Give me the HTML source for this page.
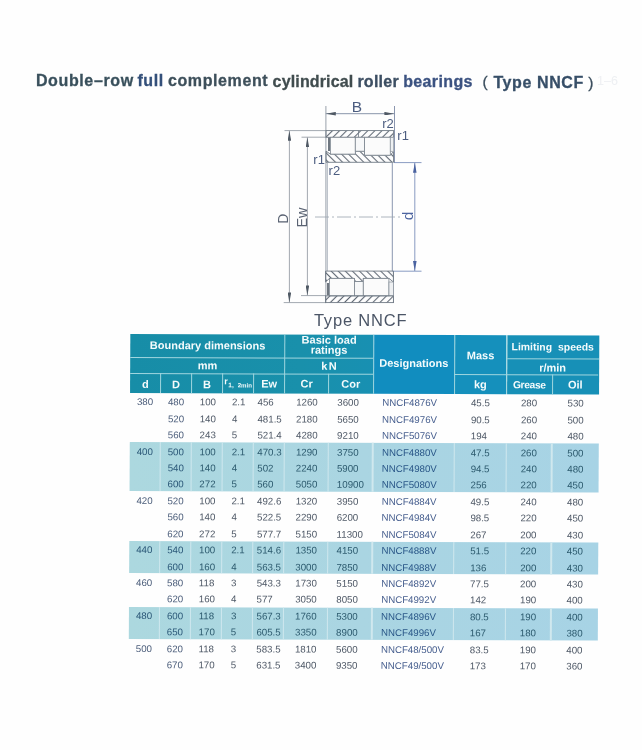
<!DOCTYPE html>
<html><head><meta charset="utf-8"><title>Type NNCF</title><style>
html,body{margin:0;padding:0;}
body{width:642px;height:750px;overflow:hidden;background:#fefefe;position:relative;font-family:"Liberation Sans",Arial,sans-serif;}
.abs{position:absolute;}
.pg{position:absolute;left:0;top:0;width:642px;height:750px;filter:blur(0.3px);}
.tbl{position:absolute;left:0;top:0;width:642px;height:750px;transform-origin:130px 400px;transform:matrix(1,0.0034,-0.005,1,0,0);}
.title{position:absolute;font-weight:bold;font-size:16px;line-height:16px;color:#3b4e5e;white-space:nowrap;letter-spacing:0px;-webkit-text-stroke:0.3px currentColor;}
.ghost{position:absolute;left:597px;top:72px;font-size:12.5px;line-height:18px;color:#eef0f3;white-space:nowrap;}
.ht{position:absolute;color:#f4fbfc;font-weight:bold;font-size:11px;line-height:12px;text-align:center;white-space:nowrap;}
.band{position:absolute;left:130px;width:468.5px;background:linear-gradient(90deg,#acd8df,#aad5e2 50%,#a7d3e5);}
.vs{position:absolute;width:1.4px;background:#d0e8ee;}
.c{position:absolute;font-size:9.7px;line-height:12px;white-space:nowrap;color:#4e5866;}
.c.dz{color:#465e8e;}
.c.dd{color:#4b5d7a;}
.bl .c{color:#2c5a6e;}
.bl .c.dd{color:#2b5878;}
.bl .c.dz{color:#2a5788;}
</style></head><body><div class="pg">
<div class="title" style="left:35.9px;top:73.00px;letter-spacing:0.63px;color:#39505c;">Double–row</div>
<div class="title" style="left:137.4px;top:73.33px;letter-spacing:0.6px;color:#34507a;">full</div>
<div class="title" style="left:168.0px;top:73.43px;letter-spacing:0.6px;color:#3d4f5a;">complement</div>
<div class="title" style="left:272.6px;top:73.78px;letter-spacing:0.15px;color:#404c4e;">cylindrical</div>
<div class="title" style="left:357.4px;top:74.06px;letter-spacing:0.25px;color:#3c4e62;">roller</div>
<div class="title" style="left:403.2px;top:74.21px;letter-spacing:0.37px;color:#3b5280;">bearings</div>
<div class="title" style="left:482.6px;top:74.47px;font-weight:normal;font-size:15.5px;">(</div>
<div class="title" style="left:493.4px;top:74.51px;letter-spacing:0.6px;color:#374f68;">Type NNCF</div>
<div class="title" style="left:588.2px;top:74.82px;font-weight:normal;font-size:15.5px;">)</div>
<div class="ghost">1–6</div>
<svg class="abs" style="left:0;top:0" width="642" height="340" viewBox="0 0 642 340">
<defs>
<pattern id="hf" patternUnits="userSpaceOnUse" width="5" height="5" patternTransform="rotate(45)"><line x1="2.5" y1="0" x2="2.5" y2="5" stroke="#5f6873" stroke-width="1.1"/></pattern>
<pattern id="hb" patternUnits="userSpaceOnUse" width="5" height="5" patternTransform="rotate(-45)"><line x1="2.5" y1="0" x2="2.5" y2="5" stroke="#5f6873" stroke-width="1.1"/></pattern>
<marker id="ah" viewBox="0 0 10 3.6" refX="10" refY="1.8" markerWidth="10" markerHeight="3.6" markerUnits="userSpaceOnUse" orient="auto-start-reverse"><path d="M0,0 L10,1.8 L0,3.6 z" fill="#4f5964"/></marker>
<marker id="ab" viewBox="0 0 10 3.6" refX="10" refY="1.8" markerWidth="10" markerHeight="3.6" markerUnits="userSpaceOnUse" orient="auto-start-reverse"><path d="M0,0 L10,1.8 L0,3.6 z" fill="#4a62a0"/></marker>
</defs>
<g fill="none" stroke-linecap="butt">
<!-- B dimension -->
<line x1="325.8" y1="113.7" x2="394.4" y2="113.7" stroke="#6a7893" stroke-width="0.8" marker-start="url(#ah)" marker-end="url(#ah)"/>
<!-- face lines -->
<line x1="325.9" y1="106" x2="325.9" y2="303" stroke="#8d96a2" stroke-width="0.9"/>
<line x1="394.5" y1="106" x2="394.5" y2="163" stroke="#7e8aa6" stroke-width="0.9"/>
<line x1="327.3" y1="163" x2="327.3" y2="271" stroke="#b3bac3" stroke-width="1.1"/>
<line x1="392.3" y1="163" x2="392.3" y2="271" stroke="#8a97b0" stroke-width="1"/>
<line x1="393.5" y1="271" x2="393.5" y2="303" stroke="#8d96a2" stroke-width="0.9"/>
<!-- D dimension -->
<line x1="284.5" y1="130.6" x2="326" y2="130.6" stroke="#8a929c" stroke-width="0.8"/>
<line x1="283.7" y1="302.6" x2="326" y2="302.6" stroke="#8a929c" stroke-width="0.8"/>
<line x1="289.4" y1="130.8" x2="289.4" y2="302.4" stroke="#8a929c" stroke-width="0.8" marker-start="url(#ah)" marker-end="url(#ah)"/>
<!-- Ew dimension -->
<line x1="301.5" y1="137.2" x2="326" y2="137.2" stroke="#8a929c" stroke-width="0.8"/>
<line x1="301" y1="295.6" x2="326" y2="295.6" stroke="#8a929c" stroke-width="0.8"/>
<line x1="307.4" y1="137.4" x2="307.4" y2="295.4" stroke="#8a929c" stroke-width="0.8" marker-start="url(#ah)" marker-end="url(#ah)"/>
<!-- d dimension -->
<line x1="394.5" y1="162.6" x2="421.5" y2="162.6" stroke="#6b82b2" stroke-width="0.8"/>
<line x1="392.5" y1="271.2" x2="421.5" y2="271.2" stroke="#6b82b2" stroke-width="0.8"/>
<line x1="414.8" y1="162.8" x2="414.8" y2="271" stroke="#6b82b2" stroke-width="0.8" marker-start="url(#ab)" marker-end="url(#ab)"/>
<!-- centre line -->
<line x1="315" y1="217" x2="401" y2="217" stroke="#9aa3ae" stroke-width="0.8" stroke-dasharray="14,3,2,3"/>
<!-- TOP SECTION -->
<rect x="326" y="130.6" width="67.6" height="6.7" fill="url(#hf)" stroke="#717b86" stroke-width="0.9"/>
<line x1="358.5" y1="130.6" x2="358.5" y2="137.3" stroke="#717b86" stroke-width="0.8"/>
<path d="M326,151.2 L330.5,154.1 L355.3,154.1 L355.3,151.2 L364.6,151.2 L364.6,155.2 L390.3,155.2 L393.5,151.5 L393.5,162.3 L326,162.3 Z" fill="url(#hb)" stroke="#717b86" stroke-width="0.9"/>
<rect x="330.5" y="137.3" width="24.8" height="16.8" fill="#fbfbfb" stroke="#7b848e" stroke-width="0.8"/>
<rect x="355.3" y="137.3" width="9.3" height="13.9" fill="#f7f8f9" stroke="#7b848e" stroke-width="0.8"/>
<rect x="364.6" y="137.3" width="25.7" height="17.9" fill="#fbfbfb" stroke="#7b848e" stroke-width="0.8"/>
<rect x="390.3" y="137.3" width="3.2" height="14" fill="#eef0f2" stroke="#8a939d" stroke-width="0.7"/>
<line x1="329" y1="137.5" x2="329" y2="151" stroke="#6f7780" stroke-width="2"/>
<!-- BOTTOM SECTION -->
<path d="M325.5,271.1 L393.4,271.1 L393.4,282 L389,278.4 L363.3,278.4 L363.3,281.5 L354.4,281.5 L354.4,278.4 L329.5,278.4 L325.5,282 Z" fill="url(#hb)" stroke="#717b86" stroke-width="0.9"/>
<rect x="329.5" y="278.4" width="24.9" height="17.4" fill="#fbfbfb" stroke="#7b848e" stroke-width="0.8"/>
<rect x="354.4" y="281.5" width="8.9" height="14.3" fill="#f7f8f9" stroke="#7b848e" stroke-width="0.8"/>
<rect x="363.3" y="278.4" width="25.6" height="17.4" fill="#fbfbfb" stroke="#7b848e" stroke-width="0.8"/>
<rect x="389" y="282" width="4.4" height="13.8" fill="#eef0f2" stroke="#8a939d" stroke-width="0.7"/>
<line x1="328" y1="283" x2="328" y2="295.6" stroke="#6f7780" stroke-width="2"/>
<rect x="325.5" y="295.9" width="67.9" height="6.7" fill="url(#hf)" stroke="#717b86" stroke-width="0.9"/>
</g>
<g font-family="Liberation Sans, Arial, sans-serif" fill="#4c5d80">
<text x="356.8" y="112.4" font-size="15.5" text-anchor="middle">B</text>
<text x="382.2" y="128.2" font-size="13">r2</text>
<text x="397.3" y="139.8" font-size="13">r1</text>
<text x="313.3" y="163.6" font-size="13">r1</text>
<text x="328.6" y="175" font-size="13">r2</text>
<text transform="translate(287.6,218.6) rotate(-90)" font-size="14" text-anchor="middle" fill="#5a6373">D</text>
<text transform="translate(306.6,217.5) rotate(-90)" font-size="14.5" text-anchor="middle" fill="#5a6373">Ew</text>
<text transform="translate(413.2,216) rotate(-90)" font-size="15.5" text-anchor="middle" fill="#4c64a0">d</text>
</g>
<text x="360.6" y="325.8" font-family="Liberation Sans, Arial, sans-serif" font-size="16.5" text-anchor="middle" fill="#4b5566" letter-spacing="0.8">Type NNCF</text>
</svg>

<div class="tbl">
<div class="abs" style="left:130px;top:334.3px;width:243px;height:58.69999999999999px;background:linear-gradient(90deg,#178da7,#1990ab 70%,#1890b2)"></div>
<div class="abs" style="left:373px;top:334.3px;width:81.19999999999999px;height:58.69999999999999px;background:#118dbf"></div>
<div class="abs" style="left:454.2px;top:334.3px;width:52.30000000000001px;height:58.69999999999999px;background:#1590bc"></div>
<div class="abs" style="left:506.5px;top:334.3px;width:92.0px;height:58.69999999999999px;background:#1790b7"></div>
<div class="abs" style="background:#a0d6df;left:130px;top:356.5px;width:243px;height:1px"></div>
<div class="abs" style="background:#a0d6df;left:130px;top:372.8px;width:243px;height:1px"></div>
<div class="abs" style="background:#a0d6df;left:506.5px;top:356.5px;width:92.0px;height:1px"></div>
<div class="abs" style="background:#a0d6df;left:454.2px;top:372.8px;width:144.3px;height:1px"></div>
<div class="abs" style="background:#a0d6df;left:160.0px;top:373.3px;width:1px;height:19.69999999999999px"></div>
<div class="abs" style="background:#a0d6df;left:191.0px;top:373.3px;width:1px;height:19.69999999999999px"></div>
<div class="abs" style="background:#a0d6df;left:222.1px;top:373.3px;width:1px;height:19.69999999999999px"></div>
<div class="abs" style="background:#a0d6df;left:252.9px;top:373.3px;width:1px;height:19.69999999999999px"></div>
<div class="abs" style="background:#a0d6df;left:327.9px;top:373.3px;width:1px;height:19.69999999999999px"></div>
<div class="abs" style="background:#a0d6df;left:551.5px;top:373.3px;width:1px;height:19.69999999999999px"></div>
<div class="abs" style="background:#a0d6df;left:284.2px;top:334.3px;width:1px;height:58.69999999999999px"></div>
<div class="abs" style="background:#a0d6df;left:372.5px;top:334.3px;width:1px;height:58.69999999999999px"></div>
<div class="abs" style="background:#a0d6df;left:453.7px;top:334.3px;width:1px;height:58.69999999999999px"></div>
<div class="abs" style="background:#a0d6df;left:506.0px;top:334.3px;width:1px;height:58.69999999999999px"></div>
<div class="ht" style="left:130px;width:154.7px;top:338.8px;">Boundary dimensions</div>
<div class="ht" style="left:130px;width:154.7px;top:358.7px;">mm</div>
<div class="ht" style="left:130px;width:30.5px;top:377.6px;">d</div>
<div class="ht" style="left:160.5px;width:31.0px;top:377.6px;">D</div>
<div class="ht" style="left:191.5px;width:31.099999999999994px;top:377.6px;">B</div>
<div class="ht" style="left:224.2px;top:374.6px;font-size:9px;">r</div>
<div class="ht" style="left:228.3px;top:378.6px;font-size:6.5px;">1,</div>
<div class="ht" style="left:237.6px;top:379px;font-size:6.1px;">2min</div>
<div class="ht" style="left:253.4px;width:31.299999999999983px;top:377.2px;">Ew</div>
<div class="ht" style="left:284.7px;width:88.30000000000001px;top:334.9px;line-height:9.8px;">Basic load<br>ratings</div>
<div class="ht" style="left:285.4px;width:88.30000000000001px;top:359.4px;letter-spacing:1.5px;">kN</div>
<div class="ht" style="left:284.7px;width:43.69999999999999px;top:377.2px;">Cr</div>
<div class="ht" style="left:328.4px;width:44.60000000000002px;top:377.2px;">Cor</div>
<div class="ht" style="left:373px;width:81.19999999999999px;top:355.7px;">Designations</div>
<div class="ht" style="left:454.2px;width:52.30000000000001px;top:347.7px;">Mass</div>
<div class="ht" style="left:454.2px;width:52.30000000000001px;top:376.7px;">kg</div>
<div class="ht" style="left:506.5px;width:92.0px;top:339.6px;font-size:10.4px;word-spacing:3.2px;">Limiting speeds</div>
<div class="ht" style="left:506.5px;width:92.0px;top:359.6px;">r/min</div>
<div class="ht" style="left:506.5px;width:45.5px;top:377.6px;font-size:10.3px;letter-spacing:-0.35px;">Grease</div>
<div class="ht" style="left:552px;width:46.5px;top:377.2px;">Oil</div>
<div class="band" style="top:442.2px;height:49.0px"></div>
<div class="vs" style="left:159.8px;top:442.2px;height:49.0px"></div>
<div class="vs" style="left:190.8px;top:442.2px;height:49.0px"></div>
<div class="vs" style="left:221.9px;top:442.2px;height:49.0px"></div>
<div class="vs" style="left:252.70000000000002px;top:442.2px;height:49.0px"></div>
<div class="vs" style="left:284.0px;top:442.2px;height:49.0px"></div>
<div class="vs" style="left:327.7px;top:442.2px;height:49.0px"></div>
<div class="vs" style="left:372.3px;top:442.2px;height:49.0px"></div>
<div class="vs" style="left:453.5px;top:442.2px;height:49.0px"></div>
<div class="vs" style="left:505.8px;top:442.2px;height:49.0px"></div>
<div class="vs" style="left:551.3px;top:442.2px;height:49.0px"></div>
<div class="band" style="top:540.5px;height:32.299999999999955px"></div>
<div class="vs" style="left:159.8px;top:540.5px;height:32.299999999999955px"></div>
<div class="vs" style="left:190.8px;top:540.5px;height:32.299999999999955px"></div>
<div class="vs" style="left:221.9px;top:540.5px;height:32.299999999999955px"></div>
<div class="vs" style="left:252.70000000000002px;top:540.5px;height:32.299999999999955px"></div>
<div class="vs" style="left:284.0px;top:540.5px;height:32.299999999999955px"></div>
<div class="vs" style="left:327.7px;top:540.5px;height:32.299999999999955px"></div>
<div class="vs" style="left:372.3px;top:540.5px;height:32.299999999999955px"></div>
<div class="vs" style="left:453.5px;top:540.5px;height:32.299999999999955px"></div>
<div class="vs" style="left:505.8px;top:540.5px;height:32.299999999999955px"></div>
<div class="vs" style="left:551.3px;top:540.5px;height:32.299999999999955px"></div>
<div class="band" style="top:606.6px;height:32.799999999999955px"></div>
<div class="vs" style="left:159.8px;top:606.6px;height:32.799999999999955px"></div>
<div class="vs" style="left:190.8px;top:606.6px;height:32.799999999999955px"></div>
<div class="vs" style="left:221.9px;top:606.6px;height:32.799999999999955px"></div>
<div class="vs" style="left:252.70000000000002px;top:606.6px;height:32.799999999999955px"></div>
<div class="vs" style="left:284.0px;top:606.6px;height:32.799999999999955px"></div>
<div class="vs" style="left:327.7px;top:606.6px;height:32.799999999999955px"></div>
<div class="vs" style="left:372.3px;top:606.6px;height:32.799999999999955px"></div>
<div class="vs" style="left:453.5px;top:606.6px;height:32.799999999999955px"></div>
<div class="vs" style="left:505.8px;top:606.6px;height:32.799999999999955px"></div>
<div class="vs" style="left:551.3px;top:606.6px;height:32.799999999999955px"></div>
<div class="abs" style="left:0;top:396.31px;width:642px;height:12px">
<span class="c dd" style="left:137px">380</span>
<span class="c dd" style="left:168px">480</span>
<span class="c" style="left:199.8px">100</span>
<span class="c" style="left:232px">2.1</span>
<span class="c" style="left:257.6px">456</span>
<span class="c" style="left:296.2px">1260</span>
<span class="c" style="left:337.3px">3600</span>
<span class="c dz" style="left:382.2px">NNCF4876V</span>
<span class="c" style="left:471px">45.5</span>
<span class="c" style="left:521px">280</span>
<span class="c" style="left:567.6px">530</span>
</div>
<div class="abs" style="left:0;top:412.75px;width:642px;height:12px">
<span class="c dd" style="left:168px">520</span>
<span class="c" style="left:199.8px">140</span>
<span class="c" style="left:232px">4</span>
<span class="c" style="left:257.6px">481.5</span>
<span class="c" style="left:296.2px">2180</span>
<span class="c" style="left:337.3px">5650</span>
<span class="c dz" style="left:382.2px">NNCF4976V</span>
<span class="c" style="left:471px">90.5</span>
<span class="c" style="left:521px">260</span>
<span class="c" style="left:567.6px">500</span>
</div>
<div class="abs" style="left:0;top:429.18px;width:642px;height:12px">
<span class="c dd" style="left:168px">560</span>
<span class="c" style="left:199.8px">243</span>
<span class="c" style="left:232px">5</span>
<span class="c" style="left:257.6px">521.4</span>
<span class="c" style="left:296.2px">4280</span>
<span class="c" style="left:337.3px">9210</span>
<span class="c dz" style="left:382.2px">NNCF5076V</span>
<span class="c" style="left:471px">194</span>
<span class="c" style="left:521px">240</span>
<span class="c" style="left:567.6px">480</span>
</div>
<div class="abs bl" style="left:0;top:445.61px;width:642px;height:12px">
<span class="c dd" style="left:137px">400</span>
<span class="c dd" style="left:168px">500</span>
<span class="c" style="left:199.8px">100</span>
<span class="c" style="left:232px">2.1</span>
<span class="c" style="left:257.6px">470.3</span>
<span class="c" style="left:296.2px">1290</span>
<span class="c" style="left:337.3px">3750</span>
<span class="c dz" style="left:382.2px">NNCF4880V</span>
<span class="c" style="left:471px">47.5</span>
<span class="c" style="left:521px">260</span>
<span class="c" style="left:567.6px">500</span>
</div>
<div class="abs bl" style="left:0;top:462.04px;width:642px;height:12px">
<span class="c dd" style="left:168px">540</span>
<span class="c" style="left:199.8px">140</span>
<span class="c" style="left:232px">4</span>
<span class="c" style="left:257.6px">502</span>
<span class="c" style="left:296.2px">2240</span>
<span class="c" style="left:337.3px">5900</span>
<span class="c dz" style="left:382.2px">NNCF4980V</span>
<span class="c" style="left:471px">94.5</span>
<span class="c" style="left:521px">240</span>
<span class="c" style="left:567.6px">480</span>
</div>
<div class="abs bl" style="left:0;top:478.46px;width:642px;height:12px">
<span class="c dd" style="left:168px">600</span>
<span class="c" style="left:199.8px">272</span>
<span class="c" style="left:232px">5</span>
<span class="c" style="left:257.6px">560</span>
<span class="c" style="left:296.2px">5050</span>
<span class="c" style="left:337.3px">10900</span>
<span class="c dz" style="left:382.2px">NNCF5080V</span>
<span class="c" style="left:471px">256</span>
<span class="c" style="left:521px">220</span>
<span class="c" style="left:567.6px">450</span>
</div>
<div class="abs" style="left:0;top:494.89px;width:642px;height:12px">
<span class="c dd" style="left:137px">420</span>
<span class="c dd" style="left:168px">520</span>
<span class="c" style="left:199.8px">100</span>
<span class="c" style="left:232px">2.1</span>
<span class="c" style="left:257.6px">492.6</span>
<span class="c" style="left:296.2px">1320</span>
<span class="c" style="left:337.3px">3950</span>
<span class="c dz" style="left:382.2px">NNCF4884V</span>
<span class="c" style="left:471px">49.5</span>
<span class="c" style="left:521px">240</span>
<span class="c" style="left:567.6px">480</span>
</div>
<div class="abs" style="left:0;top:511.33px;width:642px;height:12px">
<span class="c dd" style="left:168px">560</span>
<span class="c" style="left:199.8px">140</span>
<span class="c" style="left:232px">4</span>
<span class="c" style="left:257.6px">522.5</span>
<span class="c" style="left:296.2px">2290</span>
<span class="c" style="left:337.3px">6200</span>
<span class="c dz" style="left:382.2px">NNCF4984V</span>
<span class="c" style="left:471px">98.5</span>
<span class="c" style="left:521px">220</span>
<span class="c" style="left:567.6px">450</span>
</div>
<div class="abs" style="left:0;top:527.76px;width:642px;height:12px">
<span class="c dd" style="left:168px">620</span>
<span class="c" style="left:199.8px">272</span>
<span class="c" style="left:232px">5</span>
<span class="c" style="left:257.6px">577.7</span>
<span class="c" style="left:296.2px">5150</span>
<span class="c" style="left:337.3px">11300</span>
<span class="c dz" style="left:382.2px">NNCF5084V</span>
<span class="c" style="left:471px">267</span>
<span class="c" style="left:521px">200</span>
<span class="c" style="left:567.6px">430</span>
</div>
<div class="abs bl" style="left:0;top:544.19px;width:642px;height:12px">
<span class="c dd" style="left:137px">440</span>
<span class="c dd" style="left:168px">540</span>
<span class="c" style="left:199.8px">100</span>
<span class="c" style="left:232px">2.1</span>
<span class="c" style="left:257.6px">514.6</span>
<span class="c" style="left:296.2px">1350</span>
<span class="c" style="left:337.3px">4150</span>
<span class="c dz" style="left:382.2px">NNCF4888V</span>
<span class="c" style="left:471px">51.5</span>
<span class="c" style="left:521px">220</span>
<span class="c" style="left:567.6px">450</span>
</div>
<div class="abs bl" style="left:0;top:560.62px;width:642px;height:12px">
<span class="c dd" style="left:168px">600</span>
<span class="c" style="left:199.8px">160</span>
<span class="c" style="left:232px">4</span>
<span class="c" style="left:257.6px">563.5</span>
<span class="c" style="left:296.2px">3000</span>
<span class="c" style="left:337.3px">7850</span>
<span class="c dz" style="left:382.2px">NNCF4988V</span>
<span class="c" style="left:471px">136</span>
<span class="c" style="left:521px">200</span>
<span class="c" style="left:567.6px">430</span>
</div>
<div class="abs" style="left:0;top:577.05px;width:642px;height:12px">
<span class="c dd" style="left:137px">460</span>
<span class="c dd" style="left:168px">580</span>
<span class="c" style="left:199.8px">118</span>
<span class="c" style="left:232px">3</span>
<span class="c" style="left:257.6px">543.3</span>
<span class="c" style="left:296.2px">1730</span>
<span class="c" style="left:337.3px">5150</span>
<span class="c dz" style="left:382.2px">NNCF4892V</span>
<span class="c" style="left:471px">77.5</span>
<span class="c" style="left:521px">200</span>
<span class="c" style="left:567.6px">430</span>
</div>
<div class="abs" style="left:0;top:593.48px;width:642px;height:12px">
<span class="c dd" style="left:168px">620</span>
<span class="c" style="left:199.8px">160</span>
<span class="c" style="left:232px">4</span>
<span class="c" style="left:257.6px">577</span>
<span class="c" style="left:296.2px">3050</span>
<span class="c" style="left:337.3px">8050</span>
<span class="c dz" style="left:382.2px">NNCF4992V</span>
<span class="c" style="left:471px">142</span>
<span class="c" style="left:521px">190</span>
<span class="c" style="left:567.6px">400</span>
</div>
<div class="abs bl" style="left:0;top:609.91px;width:642px;height:12px">
<span class="c dd" style="left:137px">480</span>
<span class="c dd" style="left:168px">600</span>
<span class="c" style="left:199.8px">118</span>
<span class="c" style="left:232px">3</span>
<span class="c" style="left:257.6px">567.3</span>
<span class="c" style="left:296.2px">1760</span>
<span class="c" style="left:337.3px">5300</span>
<span class="c dz" style="left:382.2px">NNCF4896V</span>
<span class="c" style="left:471px">80.5</span>
<span class="c" style="left:521px">190</span>
<span class="c" style="left:567.6px">400</span>
</div>
<div class="abs bl" style="left:0;top:626.34px;width:642px;height:12px">
<span class="c dd" style="left:168px">650</span>
<span class="c" style="left:199.8px">170</span>
<span class="c" style="left:232px">5</span>
<span class="c" style="left:257.6px">605.5</span>
<span class="c" style="left:296.2px">3350</span>
<span class="c" style="left:337.3px">8900</span>
<span class="c dz" style="left:382.2px">NNCF4996V</span>
<span class="c" style="left:471px">167</span>
<span class="c" style="left:521px">180</span>
<span class="c" style="left:567.6px">380</span>
</div>
<div class="abs" style="left:0;top:642.77px;width:642px;height:12px">
<span class="c dd" style="left:137px">500</span>
<span class="c dd" style="left:168px">620</span>
<span class="c" style="left:199.8px">118</span>
<span class="c" style="left:232px">3</span>
<span class="c" style="left:257.6px">583.5</span>
<span class="c" style="left:296.2px">1810</span>
<span class="c" style="left:337.3px">5600</span>
<span class="c dz" style="left:382.2px">NNCF48/500V</span>
<span class="c" style="left:471px">83.5</span>
<span class="c" style="left:521px">190</span>
<span class="c" style="left:567.6px">400</span>
</div>
<div class="abs" style="left:0;top:659.20px;width:642px;height:12px">
<span class="c dd" style="left:168px">670</span>
<span class="c" style="left:199.8px">170</span>
<span class="c" style="left:232px">5</span>
<span class="c" style="left:257.6px">631.5</span>
<span class="c" style="left:296.2px">3400</span>
<span class="c" style="left:337.3px">9350</span>
<span class="c dz" style="left:382.2px">NNCF49/500V</span>
<span class="c" style="left:471px">173</span>
<span class="c" style="left:521px">170</span>
<span class="c" style="left:567.6px">360</span>
</div>
</div>
</div></body></html>
